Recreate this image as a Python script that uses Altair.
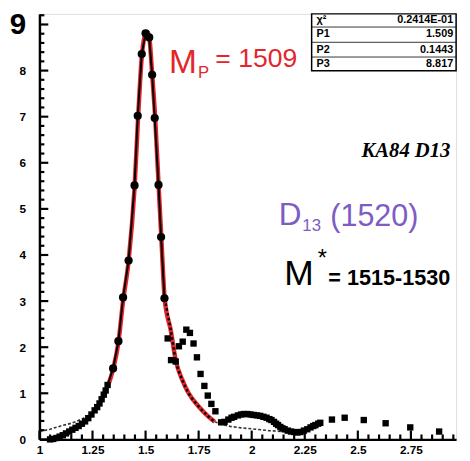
import altair as alt
import pandas as pd

# ---------------- data ----------------
# peak data points (filled circles)
circle_x = [1.347, 1.372, 1.394, 1.420, 1.448, 1.463, 1.482, 1.500, 1.517, 1.531, 1.543, 1.561, 1.573, 1.589]
circle_y = [1.54, 2.13, 3.08, 3.88, 5.51, 7.02, 8.36, 8.81, 8.72, 7.91, 6.97, 5.52, 4.39, 3.06]

# other data points (filled squares)
square_x = [1.050, 1.065, 1.080, 1.095, 1.110, 1.125, 1.140, 1.155, 1.170, 1.185, 1.200, 1.215,
            1.230, 1.245, 1.260, 1.272, 1.283, 1.293, 1.303, 1.312, 1.321,
            1.604, 1.620, 1.642, 1.657, 1.675, 1.692, 1.709, 1.726, 1.742, 1.759, 1.777, 1.793,
            1.810, 1.829, 1.856, 1.872, 1.890, 1.905, 1.917, 1.935, 1.950, 1.963, 1.980, 1.995,
            2.009, 2.025, 2.040, 2.055, 2.070, 2.083, 2.093, 2.105, 2.115, 2.124, 2.135, 2.145,
            2.155, 2.170, 2.185, 2.200, 2.216, 2.230, 2.246, 2.262, 2.277, 2.290, 2.300, 2.313,
            2.323, 2.378, 2.438, 2.528, 2.631, 2.747, 2.883]
square_y = [0.00, 0.01, 0.03, 0.06, 0.09, 0.13, 0.17, 0.21, 0.25, 0.29, 0.34, 0.39,
            0.46, 0.54, 0.63, 0.70, 0.78, 0.87, 0.97, 1.06, 1.18,
            2.19, 1.72, 1.69, 2.02, 2.12, 2.38, 2.31, 2.08, 1.78, 1.42, 1.16, 0.95,
            0.77, 0.61, 0.37, 0.38, 0.43, 0.47, 0.49, 0.52, 0.54, 0.55, 0.55, 0.54,
            0.53, 0.52, 0.51, 0.49, 0.47, 0.44, 0.42, 0.38, 0.34, 0.31, 0.27, 0.24,
            0.22, 0.19, 0.17, 0.16, 0.15, 0.16, 0.19, 0.22, 0.26, 0.29, 0.31, 0.34,
            0.36, 0.43, 0.47, 0.42, 0.35, 0.26, 0.17]

# black line joining the peak points
conn_x = [1.283, 1.303, 1.321] + circle_x
conn_y = [0.78, 0.97, 1.18] + circle_y

# red hand-drawn fit
red_x = [1.322, 1.347, 1.372, 1.394, 1.420, 1.448, 1.465, 1.483, 1.500, 1.508, 1.517, 1.531,
         1.545, 1.561, 1.574, 1.590, 1.619, 1.642, 1.673, 1.703, 1.749, 1.795, 1.826]
red_y = [1.15, 1.52, 2.10, 3.00, 3.87, 5.45, 7.00, 8.35, 8.80, 8.84, 8.74, 7.93,
         7.00, 5.55, 4.40, 3.05, 2.36, 1.72, 1.29, 1.00, 0.72, 0.50, 0.38]

# fitted curve drawn dotted over the right flank
dot_x = [1.590, 1.619, 1.642, 1.673, 1.703, 1.749, 1.795, 1.826]
dot_y = [3.05, 2.36, 1.72, 1.29, 1.00, 0.72, 0.50, 0.38]

# fitted curve, dashed tails
tailL_x = [1.00, 1.05, 1.10, 1.15, 1.20, 1.245, 1.283, 1.30]
tailL_y = [0.17, 0.22, 0.29, 0.35, 0.44, 0.56, 0.77, 0.90]
tailR_x = [1.826, 1.87, 1.90, 1.95, 2.02, 2.08, 2.147, 2.20]
tailR_y = [0.38, 0.31, 0.28, 0.25, 0.22, 0.19, 0.17, 0.15]

# stats box
stat_names = ["χ²", "P1", "P2", "P3"]
stat_values = ["0.2414E-01", "1.509", "0.1443", "8.817"]

# ticks
x_major = [1.0, 1.25, 1.5, 1.75, 2.0, 2.25, 2.5, 2.75]
x_minor = [round(1 + i * 0.05, 2) for i in range(40) if i % 5 != 0]
y_major = [0.0, 1.0, 2.0, 3.0, 4.0, 5.0, 6.0, 7.0, 8.0, 9.0]
y_minor = [round(i * 0.2, 1) for i in range(47) if i % 5 != 0]

# ---------------- layout ----------------
W, H = 424, 433
XMIN, XMAX = 1.0, 2.963
YMIN, YMAX = 0.0, 9.23
XPX = W / (XMAX - XMIN)   # pixels per x unit
YPX = H / (YMAX - YMIN)   # pixels per y unit

xaxis = alt.Axis(
    orient="bottom", values=x_major, title=None, grid=False,
    labelExpr="format(datum.value, '~g')", ticks=False,
    labelPadding=5, labelBaseline="top", labelAlign="center",
    labelFont="Liberation Sans", labelFontSize=12, labelFontWeight="bold", labelColor="black",
    labelOverlap=False, labelFlush=False, labelBound=False,
    domain=True, domainWidth=2.5, domainColor="black",
)
yaxis = alt.Axis(
    orient="left", values=y_major, title=None, grid=False,
    labelExpr="format(datum.value, 'd')", ticks=False,
    labelPadding=14, labelAlign="right", labelBaseline="middle",
    labelFont="Liberation Sans",
    labelFontSize={"condition": {"test": "datum.value == 9", "value": 30}, "value": 12},
    labelFontWeight="bold", labelColor="black",
    labelOverlap=False, labelFlush=False, labelBound=False,
    domain=True, domainWidth=2.5, domainColor="black",
)

xs = alt.Scale(domain=[XMIN, XMAX], nice=False, zero=False)
ys = alt.Scale(domain=[YMIN, YMAX], nice=False, zero=False)


def X(f="x"):
    return alt.X(f"{f}:Q", scale=xs, axis=xaxis, title=None)


def Y(f="y"):
    return alt.Y(f"{f}:Q", scale=ys, axis=yaxis, title=None)


def px2x(p):
    return 1 + (p - 40) / 216.0


def px2y(p):
    return (443 - p) / 46.9


# inward tick marks drawn from the tick lists, through the scales
def xticks(vals, length_px):
    d = pd.DataFrame({"x": vals, "y": [YMIN] * len(vals), "y2": [YMIN + length_px / YPX] * len(vals)})
    return alt.Chart(d).mark_rule(color="black", strokeWidth=2.2).encode(x=X(), y=Y(), y2="y2")


def yticks(vals, length_px):
    d = pd.DataFrame({"y": vals, "x": [XMIN] * len(vals), "x2": [XMIN + length_px / XPX] * len(vals)})
    return alt.Chart(d).mark_rule(color="black", strokeWidth=2.2).encode(y=Y(), x=X(), x2="x2")


df_circ = pd.DataFrame({"x": circle_x, "y": circle_y})
df_sq = pd.DataFrame({"x": square_x, "y": square_y})
df_conn = pd.DataFrame({"x": conn_x, "y": conn_y})
df_red = pd.DataFrame({"x": red_x, "y": red_y})
df_dot = pd.DataFrame({"x": dot_x, "y": dot_y})
df_tail = pd.DataFrame({
    "x": tailL_x + tailR_x,
    "y": tailL_y + tailR_y,
    "seg": ["L"] * len(tailL_x) + ["R"] * len(tailR_x),
})

tails = alt.Chart(df_tail).mark_line(color="#333333", strokeWidth=1.6, strokeDash=[3, 2]).encode(
    x=X(), y=Y(), detail="seg:N")
red = alt.Chart(df_red).mark_line(color="#e3262b", strokeWidth=4.5, interpolate="monotone").encode(x=X(), y=Y())
conn = alt.Chart(df_conn).mark_line(color="black", strokeWidth=2).encode(x=X(), y=Y())
dots = alt.Chart(df_dot).mark_line(color="black", strokeWidth=2.5, strokeDash=[2.5, 2.5],
                                   interpolate="monotone").encode(x=X(), y=Y())
circ = alt.Chart(df_circ).mark_point(shape="circle", filled=True, color="black", size=70, opacity=1).encode(
    x=X(), y=Y())
sq = alt.Chart(df_sq).mark_point(shape="square", filled=True, color="black", size=42, opacity=1).encode(
    x=X(), y=Y())

# stats box
box_df = pd.DataFrame({"x": [px2x(317)], "x2": [XMAX], "y": [px2y(68)], "y2": [YMAX]})
box = alt.Chart(box_df).mark_rect(fill="white", stroke="black", strokeWidth=1.5).encode(
    x=X(), x2="x2", y=Y(), y2="y2")
sep_df = pd.DataFrame({"x": [px2x(317)] * 3, "x2": [XMAX] * 3, "y": [px2y(p) for p in (23.5, 39, 54)]})
seps = alt.Chart(sep_df).mark_rule(color="black", strokeWidth=0.8).encode(x=X(), x2="x2", y=Y())
row_y = [px2y(p) for p in (16, 31, 46.5, 61.5)]
st_names = alt.Chart(pd.DataFrame({"x": [px2x(322)] * 4, "y": row_y, "t": stat_names})).mark_text(
    align="left", baseline="middle", font="Liberation Sans", fontWeight="bold", fontSize=11, color="black"
).encode(x=X(), y=Y(), text="t:N")
st_vals = alt.Chart(pd.DataFrame({"x": [px2x(461)] * 4, "y": row_y, "t": stat_values})).mark_text(
    align="right", baseline="middle", font="Liberation Sans", fontWeight="bold", fontSize=11, color="black"
).encode(x=X(), y=Y(), text="t:N")


def note(text, px, py, size, color, align="center", font="Liberation Sans",
         style="normal", weight="normal"):
    d = pd.DataFrame({"x": [px2x(px)], "y": [px2y(py)], "t": [text]})
    return alt.Chart(d).mark_text(align=align, baseline="middle", fontSize=size, color=color, font=font,
                                  fontStyle=style, fontWeight=weight).encode(x=X(), y=Y(), text="t:N")


RED = "#e3262b"
PURPLE = "#7d5cc4"
notes = [
    note("M", 186, 60, 34, RED),
    note("P", 207, 70, 17, RED),
    note("= 1509", 219, 56, 27, RED, align="left"),
    note("KA84 D13", 413, 150, 21, "black", font="Liberation Serif", style="italic", weight="bold"),
    note("D", 295, 215, 32, PURPLE),
    note("13", 317, 226, 17, PURPLE),
    note("(1520)", 336, 217, 31, PURPLE, align="left"),
    note("M", 304, 275, 36, "black"),
    note("*", 328, 260, 24, "black"),
    note("= 1515-1530", 334, 279, 22, "black", align="left", weight="bold"),
]

chart = alt.layer(
    tails, red, conn, dots, sq, circ, box, seps, st_names, st_vals, *notes,
    xticks(x_major, 9), xticks(x_minor, 5), yticks(y_major, 9), yticks(y_minor, 5),
).properties(
    width=W, height=H,
    autosize=alt.AutoSizeParams(type="none"),
    padding={"left": 32, "top": 2, "right": 6, "bottom": 18},
).configure_view(stroke="black", strokeWidth=2).configure(background="white")

chart.save("out.html", embed_options={"renderer": "svg", "actions": False})
